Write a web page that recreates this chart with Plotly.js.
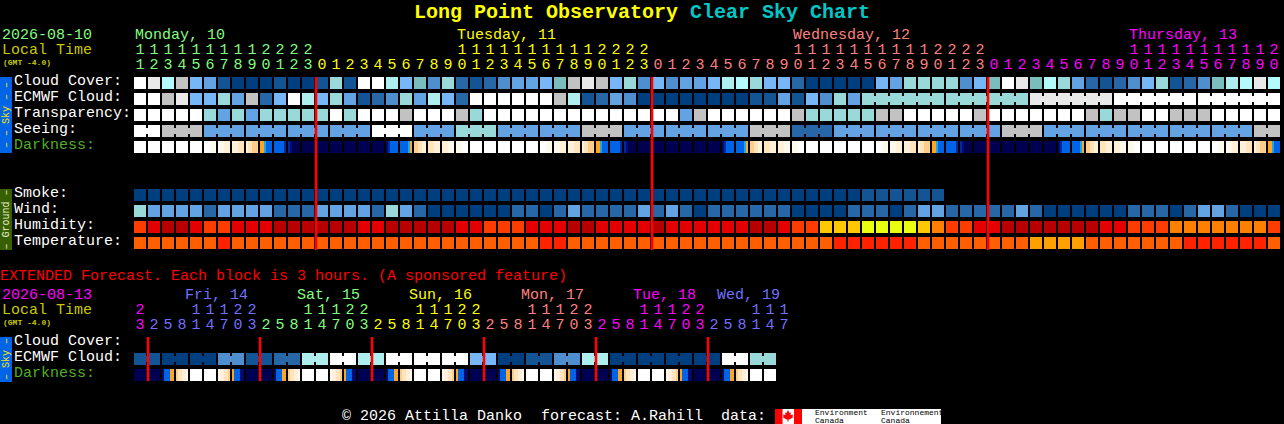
<!DOCTYPE html>
<html><head><meta charset="utf-8">
<script src="https://cdn.plot.ly/plotly-3.0.1.min.js"></script>
<style>html,body{margin:0;padding:0;background:#000;overflow:hidden}#c{width:1284px;height:424px}</style>
</head><body><div id="c"></div>
<script>
// ---- palettes ----
const skyPalette = ['#003f7f','#135494','#2767a7','#4f8fcf','#63a3e3','#77b7f7','#7bbdbd','#99d9d9','#aeeeee','#c2c2c2','#e9e9e9','#ffffff','#b4fafa'];
const darkPalette = ['#ffffff','#fff8ec','#fff0da','#ffe4bd','#ffcd8a','#ffa424','#1ca8e8','#0064e6','#0028a0','#000a70','#000050'];
const humidPalette = ['#b80000','#e40000','#ff3c00','#ff8000','#ffc800','#eaff10'];
const tempPalette = ['#ff2200','#ff5f00','#ffa000'];

// ---- main forecast (hourly blocks) ----
const mainHours = [11,12,13,14,15,16,17,18,19,20,21,22,23,
 0,1,2,3,4,5,6,7,8,9,10,11,12,13,14,15,16,17,18,19,20,21,22,23,
 0,1,2,3,4,5,6,7,8,9,10,11,12,13,14,15,16,17,18,19,20,21,22,23,
 0,1,2,3,4,5,6,7,8,9,10,11,12,13,14,15,16,17,18,19,20];
const mainDayStarts = [0,13,37,61];
const mainDayColors = ['#80ff80','#ffff00','#ff8080','#ff00ff'];
const cloudCover = [11,10,12,9,5,4,1,0,0,0,1,0,0,1,7,1,11,11,8,5,6,3,7,2,1,2,3,4,4,5,6,9,10,9,5,7,3,5,3,4,4,5,8,12,7,5,5,2,0,0,0,0,0,5,4,7,7,7,7,3,5,6,11,10,6,12,7,4,2,1,2,3,5,7,1,2,3,6,8,12,10,12];
const ecmwfCloud = [11,11,9,10,5,5,7,4,9,2,5,11,8,5,7,4,1,2,3,7,4,8,5,2,11,11,11,11,11,11,9,8,1,2,4,3,0,0,0,0,0,0,0,0,1,1,4,1,5,3,7,4,7,7,7,7,7,7,7,7,7,7,7,7,10,10,10,10,10,10,11,11,11,11,11,11,11,11,11,11,11,11];
const ecmwfGroupStart = 52, ecmwfGroupLens = [6,6,6,6,6], ecmwfGroupVals = [7,7,10,11,11];
const transparency = [11,11,11,11,11,7,4,7,4,7,7,7,7,7,11,7,11,11,11,9,11,11,11,9,7,11,11,11,11,11,11,11,11,11,11,11,11,11,11,4,9,11,11,11,11,11,11,9,7,7,7,7,7,9,9,11,11,11,11,11,9,11,11,11,11,11,11,11,9,7,9,9,11,11,9,9,9,11,11,11,11,11];
const seeingLens = [2,3,3,3,3,3,3,3,3,3,3,3,3,3,3,3,3,3,3,3,3,3,3,3,3,3,3,2];
const seeingVals = [11,9,4,4,4,4,11,4,7,4,4,9,4,4,4,9,2,4,4,4,4,9,4,4,4,4,4,9];
const darkness = [[0],[0],[0],[0],[0],[0,1],[1,2],[2,3],[2,3,3,4,4,4],[5,5,6,7,7,7],[7,7,7,7,7,8],[8,9,10,10,10,10],
 [10],[10],[10],[10],[10],[10],[9,8,7,7,7,7],[7,7,7,7,6,5],[4,4,3,3,2,2],[3,2],[2,1],[1,0],
 [0],[0],[0],[0],[0],[0,1],[1,2],[2,3],[2,3,3,4,4,4],[5,5,6,7,7,7],[7,7,7,7,7,8],[8,9,10,10,10,10],
 [10],[10],[10],[10],[10],[10],[9,8,7,7,7,7],[7,7,7,7,6,5],[4,4,3,3,2,2],[3,2],[2,1],[1,0],
 [0],[0],[0],[0],[0],[0,1],[1,2],[2,3],[2,3,3,4,4,4],[5,5,6,7,7,7],[7,7,7,7,7,8],[8,9,10,10,10,10],
 [10],[10],[10],[10],[10],[10],[9,8,7,7,7,7],[7,7,7,7,6,5],[4,4,3,3,2,2],[3,2],[2,1],[1,0],
 [0],[0],[0],[0],[0],[0,1],[1,2],[2,3],[2,3,3,4,4,4],[5,5,6,7,7,7]];
const smoke = [0,0,0,0,0,0,0,0,0,0,0,0,0,0,0,0,0,0,0,0,0,0,0,0,0,0,0,0,0,0,0,0,0,0,0,0,0,0,0,0,0,0,0,0,0,0,0,0,0,0,0,0,1,1,1,1,1,1];
const wind = [7,4,4,4,4,2,4,4,4,4,2,2,2,4,4,4,4,2,7,4,2,0,0,0,0,0,0,2,2,0,2,4,2,2,2,2,4,2,4,2,0,2,2,2,2,2,2,0,0,0,0,2,2,2,0,2,4,4,2,2,2,2,2,4,2,0,0,0,0,0,0,2,2,2,0,2,4,4,2,0,0,0];
const humidity = [2,1,0,0,1,2,2,1,1,1,0,0,0,0,0,0,1,1,0,0,0,0,0,1,1,2,2,2,1,1,1,0,0,1,1,1,1,0,1,1,1,1,1,1,0,0,1,2,2,4,4,4,5,5,5,5,4,3,2,2,1,1,0,0,0,0,0,0,0,1,1,2,2,2,3,3,3,3,3,3,3,2];
const temperature = [1,1,1,1,1,1,0,1,1,1,1,1,1,1,1,1,1,1,1,1,1,1,1,1,1,1,1,1,1,0,0,1,1,1,1,1,1,1,1,1,1,1,1,1,1,1,1,1,1,1,0,0,0,0,0,0,1,1,1,1,1,1,1,1,2,2,2,2,1,1,1,1,1,1,1,0,0,0,0,0,0,1];
const mainMidnights = [13,37,61];

// ---- extended forecast (3-hour blocks) ----
const extHours = [23,2,5,8,11,14,17,20,23,2,5,8,11,14,17,20,23,2,5,8,11,14,17,20,23,2,5,8,11,14,17,20,23,2,5,8,11,14,17,20,23,2,5,8,11,14,17];
const extDayStarts = [0,1,9,17,25,33,41];
const extDayColors = ['#ff00ff','#7070ff','#80ff80','#ffff00','#ff8080','#ff00ff','#7070ff'];
const extEcmwfLens = [2,2,2,2,2,2,2,2,2,2,2,2,2,2,2,2,2,2,2,2,2,2,2];
const extEcmwfVals = [1,0,0,3,1,2,8,11,8,11,11,11,5,0,1,3,8,0,0,0,0,11,7];
const extDarkness = [[10],[10],[9,7,7,7,5,5],[4,3,3,2,2,1],[0],[0],[1,2,2,3,3,4],[5,7,7,7,9,9],
 [10],[10],[9,7,7,7,5,5],[4,3,3,2,2,1],[0],[0],[1,2,2,3,3,4],[5,7,7,7,9,9],
 [10],[10],[9,7,7,7,5,5],[4,3,3,2,2,1],[0],[0],[1,2,2,3,3,4],[5,7,7,7,9,9],
 [10],[10],[9,7,7,7,5,5],[4,3,3,2,2,1],[0],[0],[1,2,2,3,3,4],[5,7,7,7,9,9],
 [10],[10],[9,7,7,7,5,5],[4,3,3,2,2,1],[0],[0],[1,2,2,3,3,4],[5,7,7,7,9,9],
 [10],[10],[9,7,7,7,5,5],[4,3,3,2,2,1],[0],[0]];
const extMidnights = [1,9,17,25,33,41];

// ---- text ----
const skyLabels = ['Cloud Cover:','ECMWF Cloud:','Transparency:','Seeing:','Darkness:'];
const groundLabels = ['Smoke:','Wind:','Humidity:','Temperature:'];
const extLabels = ['Cloud Cover:','ECMWF Cloud:','Darkness:'];
const mainDays = ['Monday, 10','Tuesday, 11','Wednesday, 12','Thursday, 13'];
const extDays = ['Fri, 14','Sat, 15','Sun, 16','Mon, 17','Tue, 18','Wed, 19'];

// ---- layout constants (pixels) ----
const W=1284,H=424,PITCH=14,FIRST=140;
const cx=p=>(p-FIRST)/PITCH;
const BLOCK=6/14, NECK=3, FONT='"Liberation Mono", monospace';
const mainRows={cloud:77,ecmwf:93,transp:109,seeing:125,dark:141,smoke:189,wind:205,hum:221,temp:237};
const extRows={cloud:337,ecmwf:353,dark:369};
const H_ROW=12;

function scale(pal){const n=pal.length,o=[];pal.forEach((c,i)=>{o.push([i/n,c]);o.push([(i+1)/n,c]);});return o;}
function hm(z,top,pal,extra){return Object.assign({type:'heatmap',z:[z],x0:0,dx:1,y:[top,top+H_ROW],xgap:2,ygap:0,
  colorscale:scale(pal),zmin:-0.5,zmax:pal.length-0.5,showscale:false,hoverinfo:'skip',zsmooth:false},extra||{});}
function expandGroups(lens,vals){const o=[];lens.forEach((l,i)=>{for(let k=0;k<l;k++)o.push(vals[i]);});return o;}
function neck(start,lens,vals,top,pal){ // connecting band inside each group of blocks
  const xs=[],z=[];let s=start;
  lens.forEach((l,i)=>{xs.push(s-BLOCK);z.push(vals[i]);xs.push(s+l-1+BLOCK);z.push(null);s+=l;});
  xs.push(s-BLOCK);
  return {type:'heatmap',z:[z],x:xs,y:[top+NECK,top+H_ROW-NECK],colorscale:scale(pal),zmin:-0.5,zmax:pal.length-0.5,showscale:false,hoverinfo:'skip'};
}
function dark(list,top){ // each block is six 1/7-column slices, then a gap slice
  const z=[];list.forEach(b=>{for(let k=0;k<6;k++)z.push(b[Math.floor(k*b.length/6)]);z.push(null);});
  return {type:'heatmap',z:[z],x0:-BLOCK+1/14,dx:1/7,y:[top,top+H_ROW],colorscale:scale(darkPalette),zmin:-0.5,zmax:darkPalette.length-0.5,showscale:false,hoverinfo:'skip'};
}
function hourText(hours,starts,colors,yT,yO){
  const out=[];
  starts.forEach((s,d)=>{const e=d+1<starts.length?starts[d+1]:hours.length;
    const xs=[],ones=[],tens=[];
    for(let i=s;i<e;i++){xs.push(i);ones.push(String(hours[i]%10));tens.push(hours[i]>=10?String(Math.floor(hours[i]/10)):'');}
    [[tens,yT],[ones,yO]].forEach(([t,y])=>out.push({type:'scatter',mode:'text',x:xs,y:xs.map(()=>y),text:t,textposition:'middle center',
      textfont:{family:FONT,size:15,color:colors[d]},hoverinfo:'skip',cliponaxis:false}));
  });
  return out;
}
function redLines(cols,y0,y1){const xs=[],ys=[];cols.forEach(c=>{xs.push(c-BLOCK,c-BLOCK,null);ys.push(y0,y1,null);});
  return {type:'scatter',mode:'lines',x:xs,y:ys,line:{color:'#ff0000',width:2.6},hoverinfo:'skip'};}

const traces=[
 hm(cloudCover,mainRows.cloud,skyPalette),
 hm(ecmwfCloud,mainRows.ecmwf,skyPalette),
 neck(ecmwfGroupStart,ecmwfGroupLens,ecmwfGroupVals,mainRows.ecmwf,skyPalette),
 hm(transparency,mainRows.transp,skyPalette),
 hm(expandGroups(seeingLens,seeingVals),mainRows.seeing,skyPalette),
 neck(0,seeingLens,seeingVals,mainRows.seeing,skyPalette),
 dark(darkness,mainRows.dark),
 hm(smoke,mainRows.smoke,skyPalette),
 hm(wind,mainRows.wind,skyPalette),
 hm(humidity,mainRows.hum,humidPalette),
 hm(temperature,mainRows.temp,tempPalette),
 hm(expandGroups(extEcmwfLens,extEcmwfVals),extRows.ecmwf,skyPalette),
 neck(0,extEcmwfLens,extEcmwfVals,extRows.ecmwf,skyPalette),
 dark(extDarkness,extRows.dark),
 redLines(mainMidnights,77,250),
 redLines(extMidnights,337,381),
 ...hourText(mainHours,mainDayStarts,mainDayColors,50,65),
 ...hourText(extHours,extDayStarts,extDayColors,310,325)
];

const ann=[];
function T(px,py,text,color,size,opt){ann.push(Object.assign({x:cx(px),y:py,xref:'x',yref:'y',text,showarrow:false,xanchor:'left',yanchor:'middle',
  borderpad:0,borderwidth:0,font:{family:FONT,size:size||15,color}},opt||{}));}
// title
T(414,12,'<b>Long Point Observatory</b>','#ffff00',20);
T(690,12,'<b>Clear Sky Chart</b>','#00c8c8',20);
// header left
T(2,35,'2026-08-10','#80ff80');T(2,50,'Local Time','#c8c800');T(3,62,'<b>(GMT -4.0)</b>','#c8c800',8);
[135,457,793,1129].forEach((p,i)=>T(p,35,mainDays[i],mainDayColors[i]));
skyLabels.forEach((t,i)=>T(14,81+16*i,t,i==4?'#50b020':'#ffffff'));
groundLabels.forEach((t,i)=>T(14,193+16*i,t,'#ffffff'));
T(0,276,'EXTENDED Forecast. Each block is 3 hours. (A sponsored feature)','#ff0000');
T(2,295,'2026-08-13','#ff00ff');T(2,310,'Local Time','#c8c800');T(3,322,'<b>(GMT -4.0)</b>','#c8c800',8);
[185,297,409,521,633,717].forEach((p,i)=>T(p,295,extDays[i],extDayColors[i+1]));
extLabels.forEach((t,i)=>T(14,341+16*i,t,i==2?'#50b020':'#ffffff'));
// footer
T(342,416,'© 2026 Attilla Danko','#ffffff');T(541,416,'forecast: A.Rahill','#ffffff');T(721,416,'data:','#ffffff');
T(815,412.5,'Environment','#000000',8);T(815,420,'Canada','#000000',8);
T(881,412.5,'Environnement','#000000',8);T(881,420,'Canada','#000000',8);
// side bars
function V(py,text,color){ann.push({x:cx(6),y:py,xref:'x',yref:'y',text,showarrow:false,textangle:-90,font:{family:FONT,size:10,color},borderpad:0});}
V(115,'– – Sky – –','#ffe600');V(219.5,'– Ground –','#e8f0d0');V(359,'– Sky –','#ffe600');

function R(x0,x1,y0,y1,c){return {type:'rect',xref:'x',yref:'y',x0:cx(x0),x1:cx(x1),y0,y1,fillcolor:c,line:{width:0},layer:'below'};}
const leaf=[[788,410],[789.5,413],[791,412.5],[790.5,415],[793,414.5],[792.5,416.5],[793.5,417],[789.5,419.5],[788.5,419.5],[788.5,421.5],[787.5,421.5],[787.5,419.5],[786.5,419.5],[782.5,417],[783.5,416.5],[783,414.5],[785.5,415],[785,412.5],[786.5,413]];
const shapes=[
 R(0,12,77,153,'#0064e6'),R(0,12,189,250,'#386000'),R(0,12,337,382,'#0064e6'),
 R(775,941,409,424,'#ffffff'),R(775,782.5,409,424,'#ff0000'),R(794,802,409,424,'#ff0000'),
 {type:'path',xref:'x',yref:'y',path:'M'+leaf.map(p=>cx(p[0])+','+p[1]).join('L')+'Z',fillcolor:'#ff0000',line:{width:0},layer:'below'}
];

Plotly.newPlot('c',traces,{
 width:W,height:H,margin:{l:0,r:0,t:0,b:0,pad:0},paper_bgcolor:'#000',plot_bgcolor:'#000',showlegend:false,
 xaxis:{range:[cx(0),cx(W)],visible:false,fixedrange:true},
 yaxis:{range:[H,0],visible:false,fixedrange:true},
 annotations:ann,shapes:shapes
},{displayModeBar:false,staticPlot:true});
</script></body></html>
